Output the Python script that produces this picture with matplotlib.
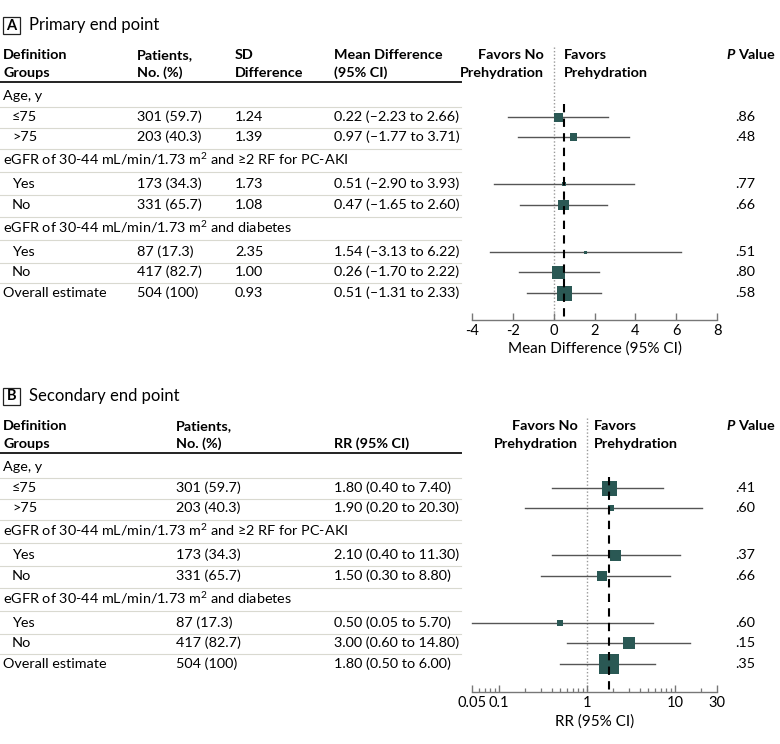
import matplotlib
matplotlib.use("Agg")
import matplotlib.pyplot as plt
from matplotlib.patches import Rectangle
from matplotlib.ticker import NullFormatter, FixedLocator
import numpy as np

plt.rcParams['font.family'] = ['Lato', 'DejaVu Sans']
plt.rcParams['font.size'] = 10.4
plt.rcParams['mathtext.fontset'] = 'custom'
plt.rcParams['mathtext.rm'] = 'Lato'
plt.rcParams['mathtext.it'] = 'Lato:italic'
plt.rcParams['mathtext.bf'] = 'Lato:bold'

# ---------------- data ----------------
group_headers = ["Age, y",
                 "eGFR of 30-44 mL/min/1.73 m$^{\\mathrm{2}}$ and \u22652 RF for PC-AKI",
                 "eGFR of 30-44 mL/min/1.73 m$^{\\mathrm{2}}$ and diabetes"]
sub_labels = ["\u226475", ">75", "Yes", "No", "Yes", "No", "Overall estimate"]
patients_n = [301, 203, 173, 331, 87, 417, 504]
patients_pct = ["59.7", "40.3", "34.3", "65.7", "17.3", "82.7", "100"]
sd_diff = [1.24, 1.39, 1.73, 1.08, 2.35, 1.00, 0.93]
md = [0.22, 0.97, 0.51, 0.47, 1.54, 0.26, 0.51]
md_lo = [-2.23, -1.77, -2.90, -1.65, -3.13, -1.70, -1.31]
md_hi = [2.66, 3.71, 3.93, 2.60, 6.22, 2.22, 2.33]
p_a = [".86", ".48", ".77", ".66", ".51", ".80", ".58"]
rr = [1.80, 1.90, 2.10, 1.50, 0.50, 3.00, 1.80]
rr_lo = [0.40, 0.20, 0.40, 0.30, 0.05, 0.60, 0.50]
rr_hi = [7.40, 20.30, 11.30, 8.80, 5.70, 14.80, 6.00]
p_b = [".41", ".60", ".37", ".66", ".60", ".15", ".35"]
md_ticks = [-4, -2, 0, 2, 4, 6, 8]
rr_ticks = [0.05, 0.1, 1, 10, 30]
rr_tick_labels = ["0.05", "0.1", "1", "10", "30"]

# ---------------- layout / style ----------------
W, H = 780, 744
fig = plt.figure(figsize=(W / 100, H / 100), dpi=100)
MARK = "#2a5854"
CI_COL = "#555555"
SEP = "#d9d9d0"

# marker sides (px)
size_a = [9, 7.5, 4.5, 10.5, 3, 13, 15]
size_b = [15, 6, 11, 10, 6, 12, 20]

# row layout in pixels for panel A; panel B offset
row_y = [96, 117, 137, 159, 184, 205, 227, 252, 272, 293]
kind = ["h", "s", "s", "h", "s", "s", "h", "s", "s", "o"]
OFF_B = 371


def fx(x):
    return x / W


def fy(y):
    return 1 - y / H


def T(x, y, s, **kw):
    kw.setdefault("va", "center")
    return fig.text(fx(x), fy(y), s, **kw)


def hline(x0, x1, y, **kw):
    fig.add_artist(plt.Line2D([fx(x0), fx(x1)], [fy(y), fy(y)],
                              transform=fig.transFigure, **kw))


def panel(off, letter, title, cols, values, est, lo, hi, pvals, sizes,
          xlim, log, null, overall, ticks, ticklabels, xlabel,
          fav_r, fav_l, null_top, dash_top, axis_y):
    # title box
    fig.add_artist(Rectangle((fx(3), fy(33.5 + off)), 17 / W, 17 / H,
                             transform=fig.transFigure, fill=False,
                             lw=0.9, edgecolor="#222222"))
    T(11.5, 25.5 + off, letter, ha="center", fontweight="bold", fontsize=10.5)
    T(29, 25 + off, title, fontsize=12)
    # headers
    T(3, 55 + off, "Definition", fontweight="bold")
    T(3, 73 + off, "Groups", fontweight="bold")
    for (x, l1, l2) in cols:
        if l1:
            T(x, 55 + off, l1, fontweight="bold")
        if l2:
            T(x, 73 + off, l2, fontweight="bold")
    hline(0, 461, 82 + off, color="#222222", lw=1.4)
    # favors labels
    T(fav_r, 55 + off, "Favors No", ha="right", fontweight="bold")
    T(fav_r, 73 + off, "Prehydration", ha="right", fontweight="bold")
    T(fav_l, 55 + off, "Favors", ha="left", fontweight="bold")
    T(fav_l, 73 + off, "Prehydration", ha="left", fontweight="bold")
    # P value header
    r = fig.canvas.get_renderer()
    tv = T(775, 55 + off, "Value", ha="right", fontweight="bold")
    x0 = tv.get_window_extent(r).x0
    T(x0 - 3.5, 55 + off, "P", ha="right", fontweight="bold", fontstyle="italic")

    # rows
    gi = 0
    si = 0
    ys = [y + off for y in row_y]
    for k, y in zip(kind, ys):
        if k == "h":
            T(3, y, group_headers[gi])
            gi += 1
        else:
            x_lab = 12 if k == "s" else 3
            T(x_lab, y, sub_labels[si])
            for (x, _, _), fmt in zip(cols, values):
                T(x, y, fmt(si))
            T(735, y, pvals[si])
            si += 1
    for a, b in zip(ys[:-1], ys[1:]):
        hline(0, 461, (a + b) / 2 + 0.5, color=SEP, lw=0.8)

    # forest axes
    top = 40 + off
    ax = fig.add_axes([fx(472), fy(axis_y), 245 / W, (axis_y - top) / H])
    ax.set_ylim(axis_y, top)
    if log:
        ax.set_xscale("log")
    ax.set_xlim(*xlim)
    ax.patch.set_alpha(0)
    for s in ["top", "left", "right"]:
        ax.spines[s].set_visible(False)
    ax.spines["bottom"].set_color("#777777")
    ax.spines["bottom"].set_linewidth(1.0)
    ax.set_yticks([])
    ax.xaxis.set_major_locator(FixedLocator(ticks))
    ax.set_xticklabels(ticklabels)
    if log:
        minors = [v for d in [0.01, 0.1, 1, 10] for v in np.arange(2, 10) * d
                  if xlim[0] < v < xlim[1] and not np.isclose(v, ticks).any()]
        ax.xaxis.set_minor_locator(FixedLocator(minors))
        ax.xaxis.set_minor_formatter(NullFormatter())
    else:
        ax.xaxis.set_minor_locator(FixedLocator([]))
    ax.tick_params(axis="x", which="major", direction="in", length=5,
                   width=1, color="#777777", labelsize=10.5, pad=3)
    ax.tick_params(axis="x", which="minor", direction="in", length=3,
                   width=0.9, color="#777777")
    ax.set_xlabel(xlabel, fontsize=11, labelpad=3)

    ax.plot([null, null], [null_top, axis_y], color="#999999", lw=1,
            ls=(0, (1, 1.5)), zorder=1)
    ax.plot([overall, overall], [dash_top, axis_y], color="black", lw=1.5,
            ls=(0, (4, 3)), zorder=4)
    sub_ys = [y for k, y in zip(kind, ys) if k != "h"]
    for e, l, h_, y, sz in zip(est, lo, hi, sub_ys, sizes):
        ax.plot([l, h_], [y, y], color=CI_COL, lw=1, zorder=2, clip_on=False)
        ax.scatter([e], [y], marker="s", s=(sz * 0.72) ** 2, color=MARK,
                   edgecolors="none", zorder=3)
    return ax


panel(0, "A", "Primary end point",
      [(137, "Patients,", "No. (%)"), (235, "SD", "Difference"),
       (334, "Mean Difference", "(95% CI)")],
      [lambda i: f"{patients_n[i]} ({patients_pct[i]})",
       lambda i: f"{sd_diff[i]:.2f}",
       lambda i: f"{md[i]:.2f} ({md_lo[i]:.2f} to {md_hi[i]:.2f})".replace("-", "\u2013")],
      md, md_lo, md_hi, p_a, size_a,
      (-4, 8), False, 0, md[-1], md_ticks, [str(t) for t in md_ticks],
      "Mean Difference (95% CI)", 544, 564, 47, 104, 319.5)

panel(OFF_B, "B", "Secondary end point",
      [(176, "Patients,", "No. (%)"), (334, None, "RR (95% CI)")],
      [lambda i: f"{patients_n[i]} ({patients_pct[i]})",
       lambda i: f"{rr[i]:.2f} ({rr_lo[i]:.2f} to {rr_hi[i]:.2f})"],
      rr, rr_lo, rr_hi, p_b, size_b,
      (0.05, 30), True, 1, rr[-1], rr_ticks, rr_tick_labels,
      "RR (95% CI)", 578, 594, 47 + OFF_B, 477, 692)

fig.savefig("out.png", dpi=100)
